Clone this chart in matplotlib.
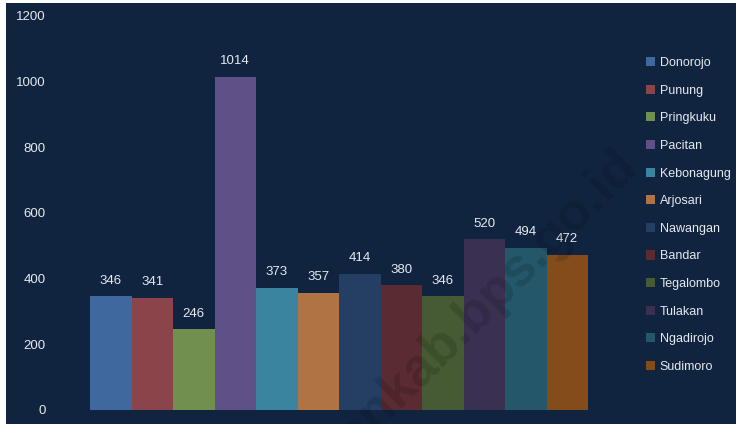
import matplotlib.pyplot as plt
from matplotlib.patches import Rectangle

kecamatan = ["Donorojo", "Punung", "Pringkuku", "Pacitan", "Kebonagung", "Arjosari",
             "Nawangan", "Bandar", "Tegalombo", "Tulakan", "Ngadirojo", "Sudimoro"]
jumlah = [346, 341, 246, 1014, 373, 357, 414, 380, 346, 520, 494, 472]
warna = ["#3F699E", "#8B4449", "#718F4F", "#5F5187", "#3A849F", "#B07444",
         "#243F63", "#5B2B33", "#465A33", "#3A3152", "#235769", "#844C1B"]
yticks = [0, 200, 400, 600, 800, 1000, 1200]

bg = "#11243F"
txt = "#E6E9EE"
plt.rcParams["font.family"] = ["Liberation Sans", "DejaVu Sans"]

fig = plt.figure(figsize=(7.38, 4.25), dpi=100, facecolor="white")
latar = Rectangle((6 / 738, 1 / 425), 730 / 738, 421 / 425,
                  transform=fig.transFigure, facecolor=bg,
                  edgecolor="none", zorder=-10)
fig.patches.append(latar)

ax = fig.add_axes([90 / 738, 15 / 425, 498 / 738, 394 / 425])
ax.set_facecolor("none")

for i, (nama, nilai, c) in enumerate(zip(kecamatan, jumlah, warna)):
    ax.bar(i, nilai, width=1.0, color=c, label=nama, zorder=2)
    ax.annotate(str(nilai), (i, nilai), xytext=(0, 7), textcoords="offset points",
                ha="center", va="bottom", color=txt, fontsize=9.5, zorder=3)

ax.set_xlim(-0.5, 11.5)
ax.set_ylim(0, 1200)
ax.set_yticks(yticks)
ax.tick_params(axis="y", length=0, pad=32, labelcolor=txt, labelsize=9.5)
ax.set_xticks([])
for s in ax.spines.values():
    s.set_visible(False)

leg = ax.legend(loc="upper left", bbox_to_anchor=(636 / 738, 1 - 47 / 425),
                bbox_transform=fig.transFigure, frameon=False, fontsize=9,
                labelcolor=txt, handlelength=0.75, handleheight=0.75,
                handletextpad=0.35, labelspacing=1.25, borderpad=0.3)

wm = fig.text(612 / 738, 1 - 140 / 425, "pacitankab.bps.go.id", rotation=45,
              ha="right", va="top", fontsize=38, fontweight="bold",
              color="black", alpha=0.13, zorder=5, rotation_mode="anchor")
wm.set_clip_path(latar)

fig.savefig("out.png", dpi=100, facecolor=fig.get_facecolor())
